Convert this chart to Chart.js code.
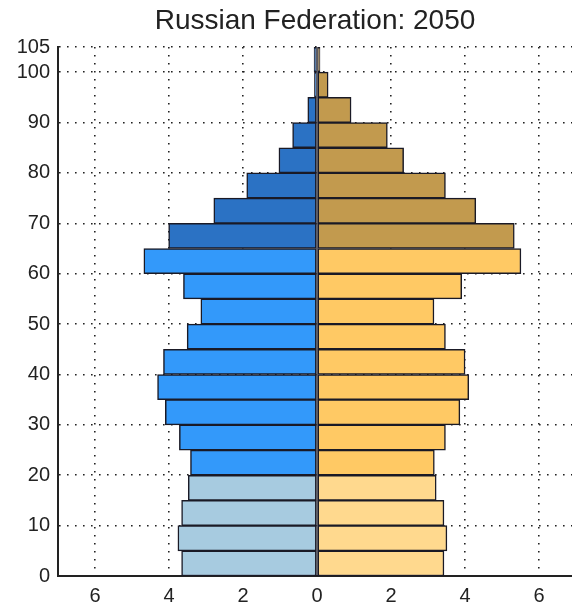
<!DOCTYPE html>
<html>
<head>
<meta charset="utf-8">
<script src="https://cdn.jsdelivr.net/npm/chart.js@4.4.0/dist/chart.umd.min.js"></script>
<style>
  html, body { margin: 0; padding: 0; background: #fff; }
  #wrap { width: 572px; height: 607px; }
</style>
</head>
<body>
<div id="wrap"><canvas id="pyramid" width="572" height="607"></canvas></div>
<script>
// age groups, 5-year bins from the bottom up
var ageGroups = ['0-4', '5-9', '10-14', '15-19', '20-24', '25-29', '30-34', '35-39', '40-44',
    '45-49', '50-54', '55-59', '60-64', '65-69', '70-74', '75-79', '80-84', '85-89',
    '90-94', '95-99', '100+'];
// percent of population
var males = [3.66, 3.76, 3.66, 3.48, 3.42, 3.72, 4.10, 4.31, 4.15, 3.51, 3.14, 3.61, 4.68,
    4.01, 2.79, 1.90, 1.03, 0.66, 0.25, 0.07, 0.08];
var females = [3.43, 3.51, 3.43, 3.22, 3.17, 3.47, 3.86, 4.10, 4.00, 3.47, 3.16, 3.91, 5.51,
    5.33, 4.29, 3.47, 2.34, 1.90, 0.92, 0.30, 0.08];
var xTicks = [-6, -4, -2, 0, 2, 4, 6];
var yTicks = [0, 10, 20, 30, 40, 50, 60, 70, 80, 90, 100, 105];

// young (<20), working (20-64), old (65+)
function band(i) {
    if (i < 4) return 0;
    if (i < 13) return 1;
    return 2;
}
var maleColors = ['#a7cbe0', '#3399fa', '#2b72c4'];
var femaleColors = ['#ffd98e', '#ffc964', '#c29a4e'];
var font = 'Liberation Sans, Arial, sans-serif';

var gridDots = {
    color: function (ctx) {
        return ctx.tick && ctx.tick.value === 0 ? 'rgba(0,0,0,0)' : '#222';
    },
    lineWidth: 1.6,
    offset: false,
    drawTicks: false
};

// solid line down the middle, between the two halves
var zeroLine = {
    id: 'zeroLine',
    afterDatasetsDraw: function (chart) {
        var x = chart.scales.x.getPixelForValue(0);
        var y0 = chart.scales.y2.getPixelForValue(0);
        var y1 = chart.scales.y2.getPixelForValue(105);
        var c = chart.ctx;
        c.save();
        c.strokeStyle = '#1a1a26';
        c.lineWidth = 1.2;
        c.beginPath();
        c.moveTo(x, y0);
        c.lineTo(x, y1);
        c.stroke();
        c.restore();
    }
};

var config = {
    type: 'bar',
    data: {
        labels: ageGroups,
        datasets: [{
            label: 'Male',
            data: males.map(function (v) { return -v; }),
            backgroundColor: males.map(function (v, i) { return maleColors[band(i)]; }),
            borderColor: '#1a1a26',
            borderWidth: 1.5,
            borderSkipped: false,
            barPercentage: 1,
            categoryPercentage: 1,
            yAxisID: 'y'
        }, {
            label: 'Female',
            data: females,
            backgroundColor: females.map(function (v, i) { return femaleColors[band(i)]; }),
            borderColor: '#1a1a26',
            borderWidth: 1.5,
            borderSkipped: false,
            barPercentage: 1,
            categoryPercentage: 1,
            yAxisID: 'y'
        }]
    },
    options: {
        indexAxis: 'y',
        responsive: false,
        animation: false,
        layout: { padding: 0 },
        plugins: {
            legend: { display: false },
            tooltip: { enabled: false },
            title: {
                display: true,
                fullSize: false,
                text: 'Russian Federation: 2050',
                color: '#222',
                font: { family: font, size: 28, weight: 'normal' },
                padding: { top: 4, bottom: 9.4 }
            }
        },
        scales: {
            x: {
                type: 'linear',
                stacked: true,
                offset: false,
                min: -7,
                max: 6.89,
                afterBuildTicks: function (scale) {
                    scale.ticks = xTicks.map(function (v) { return { value: v }; });
                },
                afterFit: function (scale) { scale.height = 31; },
                ticks: {
                    color: '#222',
                    padding: 8,
                    font: { family: font, size: 20 },
                    callback: function (v) { return Math.abs(v); }
                },
                grid: gridDots,
                border: { display: true, color: '#222', width: 2, dash: [1.6, 6.4] }
            },
            y: {
                type: 'category',
                stacked: true,
                reverse: true,
                display: false
            },
            y2: {
                type: 'linear',
                position: 'left',
                offset: false,
                min: 0,
                max: 105,
                afterBuildTicks: function (scale) {
                    scale.ticks = yTicks.map(function (v) { return { value: v }; });
                },
                afterFit: function (scale) { scale.width = 58; },
                ticks: {
                    color: '#222',
                    padding: 8,
                    font: { family: font, size: 20 }
                },
                grid: gridDots,
                border: { display: true, color: '#222', width: 2, dash: [1.6, 6.4] }
            }
        }
    },
    plugins: [zeroLine]
};

var ctx = document.getElementById('pyramid').getContext('2d');
window.pyramid = new Chart(ctx, config);
</script>
</body>
</html>
